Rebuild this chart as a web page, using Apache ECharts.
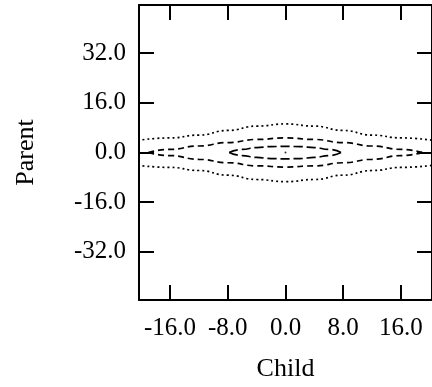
<!DOCTYPE html>
<html>
<head>
<meta charset="utf-8">
<script src="https://cdn.jsdelivr.net/npm/echarts@6/dist/echarts.min.js"></script>
<style>
  html, body { margin: 0; padding: 0; background: #fff; }
  #chart { width: 432px; height: 387px; }
</style>
</head>
<body>
<div id="chart"></div>
<script>
// contour data
const xTicks = [-16, -8, 0, 8, 16];
const yTicks = [-32, -16, 0, 16, 32];

const outerX = [-20.5, -16, -12, -8, -4, 0, 4, 8, 12, 16, 20.5];
const outerUpper = [3.9, 4.7, 5.6, 7.1, 8.5, 9.2, 8.5, 7.1, 5.6, 4.7, 3.9];
const outerLower = [-4.1, -4.8, -5.8, -7.3, -8.7, -9.4, -8.7, -7.3, -5.8, -4.8, -4.1];

const midX = [-19, -16, -12, -8, -4, 0, 4, 8, 12, 16, 19];
const midUpper = [0, 1.0, 2.1, 3.2, 4.2, 4.7, 4.2, 3.2, 2.1, 1.0, 0];
const midLower = [0, -1.0, -2.2, -3.3, -4.3, -4.7, -4.3, -3.3, -2.2, -1.0, 0];

const innerX = [-7.8, -6, -4, -2, 0, 2, 4, 6, 7.7];
const innerUpper = [0, 1.0, 1.6, 1.9, 2.0, 1.9, 1.6, 1.0, 0];
const innerLower = [0, -1.0, -1.6, -1.95, -2.05, -1.95, -1.6, -1.0, 0];

const centerDot = [[0, 0]];

const font = 'Liberation Serif, Times New Roman, serif';

const pairs = (xs, ys) => xs.map((x, i) => [x, ys[i]]);

function contour(xs, ys, dash) {
  return {
    type: 'line', xAxisIndex: 0, yAxisIndex: 0,
    data: pairs(xs, ys), showSymbol: false, smooth: 0.5, smoothMonotone: 'x',
    lineStyle: { color: '#000', width: 1.7, type: dash },
    silent: true, animation: false,
  };
}

const axisCommon = {
  type: 'value',
  axisLine: { show: true, onZero: false, lineStyle: { color: '#000', width: 2 } },
  axisTick: { show: true, inside: true, length: 15, lineStyle: { color: '#000', width: 2 } },
  splitLine: { show: false },
};

const chart = echarts.init(document.getElementById('chart'), null, { renderer: 'canvas' });
chart.setOption({
  backgroundColor: '#fff',
  animation: false,
  grid: { left: 139, top: 5, width: 297, height: 296 },
  xAxis: [
    {
      ...axisCommon, position: 'bottom', min: -20.3, max: 20.3,
      axisTick: { ...axisCommon.axisTick, customValues: xTicks },
      axisLabel: {
        customValues: xTicks, color: '#000', fontFamily: font, fontSize: 25, margin: 16,
        formatter: v => Number(v).toFixed(1),
      },
      name: 'Child', nameLocation: 'middle', nameGap: 56,
      nameTextStyle: { color: '#000', fontFamily: font, fontSize: 26 },
    },
    {
      ...axisCommon, position: 'top', min: -20.3, max: 20.3,
      axisTick: { ...axisCommon.axisTick, customValues: xTicks },
      axisLabel: { show: false },
    },
  ],
  yAxis: [
    {
      ...axisCommon, position: 'left', min: -47.5, max: 47.5,
      axisTick: { ...axisCommon.axisTick, customValues: yTicks },
      axisLabel: {
        customValues: yTicks, color: '#000', fontFamily: font, fontSize: 25, margin: 13,
        formatter: v => Number(v).toFixed(1),
      },
      name: 'Parent', nameLocation: 'middle', nameGap: 100,
      nameTextStyle: { color: '#000', fontFamily: font, fontSize: 26 },
    },
    {
      ...axisCommon, position: 'right', min: -47.5, max: 47.5,
      axisTick: { ...axisCommon.axisTick, customValues: yTicks },
      axisLabel: { show: false },
    },
  ],
  series: [
    contour(outerX, outerUpper, [2, 3]),
    contour(outerX, outerLower, [2, 3]),
    contour(midX, midUpper, [6, 4]),
    contour(midX, midLower, [6, 4]),
    contour(innerX, innerUpper, [9, 4]),
    contour(innerX, innerLower, [9, 4]),
    {
      type: 'scatter', data: centerDot, symbolSize: 2,
      itemStyle: { color: '#000' }, silent: true, animation: false,
    },
  ],
});
</script>
</body>
</html>
